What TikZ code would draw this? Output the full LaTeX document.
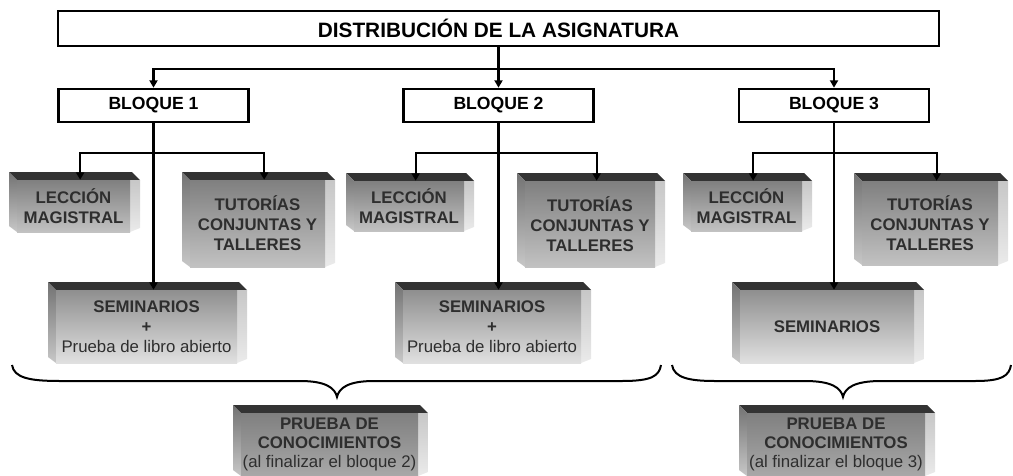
\documentclass[tikz,border=0pt]{standalone}
\usepackage{fontspec}
\setmainfont{Liberation Sans}
\usepackage{tikz}
\usetikzlibrary{arrows.meta, positioning, calc}
\definecolor{textogris}{HTML}{2E2E2E}
% caja en relieve: nombre, x1, y1, x2, y2, estilo del frente, texto
\newcommand{\caja}[7]
{
	\fill[cara sup] (#2,#3) -- (#4-8,#3) -- (#4,#3+8) -- (#2+8,#3+8) -- cycle;
	\shade[cara izq] (#2,#3) -- (#2+8,#3+8) -- (#2+8,#5) -- (#2,#5-6) -- cycle;
	\shade[cara der] (#4-10,#3+8) -- (#4,#3+8) -- (#4,#5-4) -- (#4-10,#5) -- cycle;
	\node[caja, #6, minimum width={(#4-#2-18)*0.75pt}, minimum height={(#5-#3-8)*0.75pt}] at ({(#2+#4-2)/2}, {(#3+8+#5)/2}) (#1){#7};
}
\newcommand{\rama}[3]
{
	\draw[flecha] (#1.south) -- +(0,#2) -| (#3)
}

\begin{document}
\begin{tikzpicture}[x=0.75pt, y=-0.75pt,
flecha/.style={line width=1.6pt, -{Triangle[length=5.5pt, width=6pt]}},
llave/.style={line width=1.5pt},
titulo/.style={draw, line width=2pt, fill=white, inner sep=0pt,
	font=\bfseries\fontsize{15.6}{18}\selectfont},
bloque/.style={draw, line width=2pt, fill=white, inner sep=0pt,
	minimum width=142.5pt, minimum height=24.75pt,
	font=\bfseries\fontsize{13.2}{16}\selectfont},
cara sup/.style={fill=black!80},
cara izq/.style={top color=black!55, bottom color=black!22},
cara der/.style={top color=black!22, bottom color=black!8},
caja/.style={shade, inner sep=0pt, align=center, text=textogris,
	font=\bfseries\fontsize{12.6}{15}\selectfont},
frente medio/.style={top color=black!50, bottom color=black!24},
frente claro/.style={top color=black!44, bottom color=black!12},
frente oscuro/.style={top color=black!50, bottom color=black!34,
	font=\bfseries\fontsize{12.6}{14.3}\selectfont}]

\useasboundingbox (0,0) rectangle (1013,475);
\clip (0,0) rectangle (1013,475);

\node[titulo, minimum width=660.75pt, minimum height=26.25pt] at (498.5, 28.5) (dist){DISTRIBUCIÓN DE LA ASIGNATURA};

\node[bloque] at (153.5, 105.5) (b1){BLOQUE 1};
\node[bloque] at (498.5, 105.5) (b2){BLOQUE 2};
\node[bloque] at (834, 105.5) (b3){BLOQUE 3};

% bloque 1
\caja{l1}{9}{172}{140}{232}{frente medio}{LECCIÓN\\MAGISTRAL};
\caja{t1}{182}{172}{335}{267}{frente medio}{TUTORÍAS\\CONJUNTAS Y\\TALLERES};
\caja{s1}{48}{282}{247}{363}{frente claro}{SEMINARIOS\\+\\{\mdseries Prueba de libro abierto}};

% bloque 2
\caja{l2}{346}{173}{474}{231}{frente medio}{LECCIÓN\\MAGISTRAL};
\caja{t2}{517}{173}{665}{267}{frente medio}{TUTORÍAS\\CONJUNTAS Y\\TALLERES};
\caja{s2}{395}{282}{591}{363}{frente claro}{SEMINARIOS\\+\\{\mdseries Prueba de libro abierto}};

% bloque 3
\caja{l3}{683}{173}{812}{231}{frente medio}{LECCIÓN\\MAGISTRAL};
\caja{t3}{854}{173}{1008}{265}{frente medio}{TUTORÍAS\\CONJUNTAS Y\\TALLERES};
\caja{s3}{732}{282}{924}{363}{frente claro}{SEMINARIOS};

% pruebas
\caja{p1}{233}{405}{428}{476}{frente oscuro}{PRUEBA DE\\CONOCIMIENTOS\\{\mdseries (al finalizar el bloque 2)}};
\caja{p2}{739}{405}{935}{476}{frente oscuro}{PRUEBA DE\\CONOCIMIENTOS\\{\mdseries (al finalizar el bloque 3)}};

\draw[flecha] (dist.south) -- (b2.north);
\rama{dist}{22}{b1.north};
\rama{dist}{22}{b3.north};

\draw[flecha] (b1.south) -- (b1.south |- s1.north);
\draw[flecha] (b2.south) -- (b2.south |- s2.north);
\draw[flecha] (b3.south) -- (b3.south |- s3.north);
\rama{b1}{30}{[xshift=5pt]l1.north};
\rama{b1}{30}{[xshift=5pt]t1.north};
\rama{b2}{30}{[xshift=5pt]l2.north};
\rama{b2}{30}{[xshift=5pt]t2.north};
\rama{b3}{30}{[xshift=5pt]l3.north};
\rama{b3}{30}{[xshift=5pt]t3.north};

% llaves
\draw[llave] (12,365) .. controls (14,378) and (30,381) .. (60,381) -- (300,381) .. controls (326,381) and (335,388) .. (337,397) .. controls (339,388) and (348,381) .. (374,381) -- (622,381) .. controls (652,381) and (659,376) .. (661,365);
\draw[llave] (672,365) .. controls (674,378) and (690,381) .. (715,381) -- (805,381) .. controls (832,381) and (841,388) .. (843,397) .. controls (845,388) and (854,381) .. (881,381) -- (975,381) .. controls (1002,381) and (1009,376) .. (1011,365);
\end{tikzpicture}
\end{document}
